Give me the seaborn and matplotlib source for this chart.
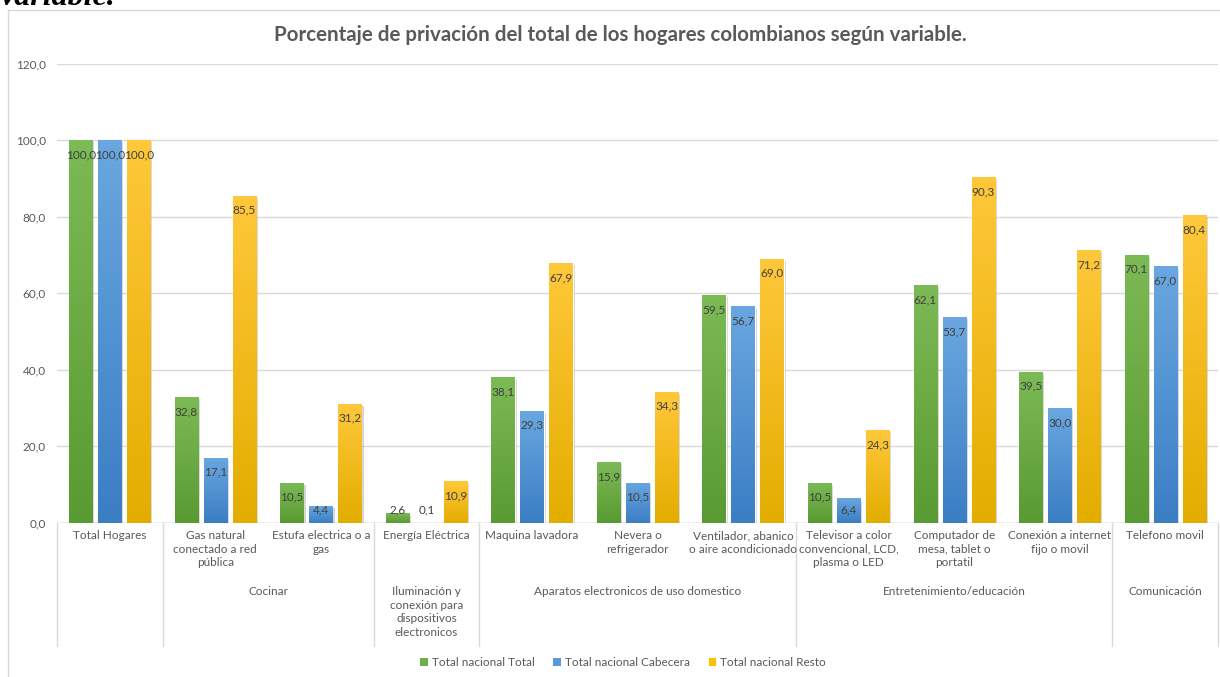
import matplotlib
matplotlib.use("Agg")
import numpy as np
import pandas as pd
import seaborn as sns
import matplotlib.pyplot as plt
from matplotlib.patches import Patch, Rectangle
from matplotlib import patheffects as pe
from matplotlib.colors import to_rgb

# ---- data -------------------------------------------------------------
categories = [
    "Total Hogares",
    "Gas natural\nconectado a red\npública",
    "Estufa electrica o a\ngas",
    "Energía Eléctrica",
    "Maquina lavadora",
    "Nevera o\nrefrigerador",
    "Ventilador, abanico\no aire acondicionado",
    "Televisor a color\nconvencional, LCD,\nplasma o LED",
    "Computador de\nmesa, tablet o\nportatil",
    "Conexión a internet\nfijo o movil",
    "Telefono movil",
]
group_labels = ["", "Cocinar",
                "Iluminación y\nconexión para\ndispositivos\nelectronicos",
                "Aparatos electronicos de uso domestico",
                "Entretenimiento/educación", "Comunicación"]
group_first = [0, 1, 3, 4, 7, 10]
group_last = [0, 2, 3, 6, 9, 10]

series = ["Total nacional Total", "Total nacional Cabecera", "Total nacional Resto"]
total = [100.0, 32.8, 10.5, 2.6, 38.1, 15.9, 59.5, 10.5, 62.1, 39.5, 70.1]
cabecera = [100.0, 17.1, 4.4, 0.1, 29.3, 10.5, 56.7, 6.4, 53.7, 30.0, 67.0]
resto = [100.0, 85.5, 31.2, 10.9, 67.9, 34.3, 69.0, 24.3, 90.3, 71.2, 80.4]
values = [total, cabecera, resto]

title = "Porcentaje de privación del total de los hogares colombianos según variable."

df = pd.DataFrame({
    "categoria": categories * 3,
    "serie": np.repeat(series, len(categories)),
    "valor": total + cabecera + resto,
})

# ---- style ------------------------------------------------------------
sns.set_theme(style="white")
plt.rcParams["font.family"] = ["Lato", "DejaVu Sans"]

base = ["#70ad47", "#5b9bd5", "#ffc000"]
grad_top = ["#7cba55", "#6aa7e0", "#ffc83a"]
grad_bot = ["#5a9a32", "#3b7ec4", "#e3ad00"]
text_grey = "#595959"
grid_grey = "#d9d9d9"

W, H = 1220, 677
fig = plt.figure(figsize=(W / 100, H / 100), dpi=100)
ax_h = 523 - 63.5
ax = fig.add_axes([57 / W, (H - 523) / H, (1218 - 57) / W, ax_h / H])

sns.barplot(data=df, x="categoria", y="valor", hue="serie",
            order=categories, hue_order=series, palette=base,
            width=0.825, gap=0.2, saturation=1, errorbar=None,
            legend=False, ax=ax)

ax.set_xlim(-0.5, len(categories) - 0.5)
ax.set_ylim(0, 120)
ax.set_yticks(range(0, 121, 20))
ax.set_yticklabels([f"{t:.1f}".replace(".", ",") for t in range(0, 121, 20)],
                   fontsize=8.5, color=text_grey)
ax.tick_params(axis="y", length=0, pad=8)
ax.set_xticks([])
ax.set_xlabel("")
ax.set_ylabel("")
for s in ax.spines.values():
    s.set_visible(False)
ax.yaxis.grid(True, color=grid_grey, lw=1)
ax.set_axisbelow(True)
ax.axhline(0, color="#d0d0d0", lw=1, zorder=1)

# gradient fill inside each bar
for k, cont in enumerate(ax.containers):
    c_top, c_bot = np.array(to_rgb(grad_top[k])), np.array(to_rgb(grad_bot[k]))
    t = np.linspace(0, 1, 64)[:, None, None]
    img = c_top * (1 - t) + c_bot * t
    for bar, v in zip(cont, values[k]):
        bar.set_path_effects([pe.SimplePatchShadow(offset=(1.5, -1.5),
                                                   shadow_rgbFace="#808080",
                                                   alpha=0.35), pe.Normal()])
        x0, w, h = bar.get_x(), bar.get_width(), bar.get_height()
        if h <= 0:
            continue
        im = ax.imshow(img, extent=(x0, x0 + w, 0, h), origin="upper",
                       aspect="auto", zorder=bar.get_zorder() + 0.1)
        im.set_clip_path(bar)
        # value label at the inside end of the bar
        ax.text(x0 + w / 2, max(v - 3.8, 3.4), f"{v:.1f}".replace(".", ","),
                ha="center", va="center", fontsize=8.5, color="#404040",
                zorder=6)
ax.set_xlim(-0.5, len(categories) - 0.5)
ax.set_ylim(0, 120)

# two-level category axis
xt = ax.get_xaxis_transform()
def frac(py):
    return -(py - 523) / ax_h

for i, cat in enumerate(categories):
    ax.text(i, frac(530), cat, transform=xt, ha="center", va="top",
            fontsize=8.5, color=text_grey, linespacing=1.3)
for lab, a, b in zip(group_labels, group_first, group_last):
    if lab:
        ax.text((a + b) / 2, frac(586), lab, transform=xt, ha="center",
                va="top", fontsize=8.5, color=text_grey, linespacing=1.3)
bounds = [-0.5] + [b + 0.5 for b in group_last]
for xb in bounds:
    ax.plot([xb, xb], [0, frac(646)], transform=xt, color=grid_grey,
            lw=1, clip_on=False)

# title, legend and frame
fig.text(620 / W, 1 - 35 / H, title, ha="center", va="center",
         fontsize=14.8, fontweight="bold", color=text_grey)
handles = [Patch(facecolor=c, edgecolor="none", label=s)
           for c, s in zip(base, series)]
fig.legend(handles=handles, loc="center", bbox_to_anchor=(623 / W, 14 / H),
           ncol=3, frameon=False, fontsize=8.5, labelcolor=text_grey,
           handlelength=0.65, handleheight=0.65, handletextpad=0.3,
           columnspacing=1.6)
fig.patches.append(Rectangle((8 / W, -0.1), 2, 1.1 - 10 / H, fill=False,
                             edgecolor=grid_grey, lw=1,
                             transform=fig.transFigure, figure=fig))
fig.text(1 / W, 1 - 5 / H, "variable.", ha="left", va="baseline",
         fontsize=23, fontweight="bold", style="italic",
         family=["Liberation Serif", "DejaVu Serif"], color="black")

fig.savefig("out.png", dpi=100)
